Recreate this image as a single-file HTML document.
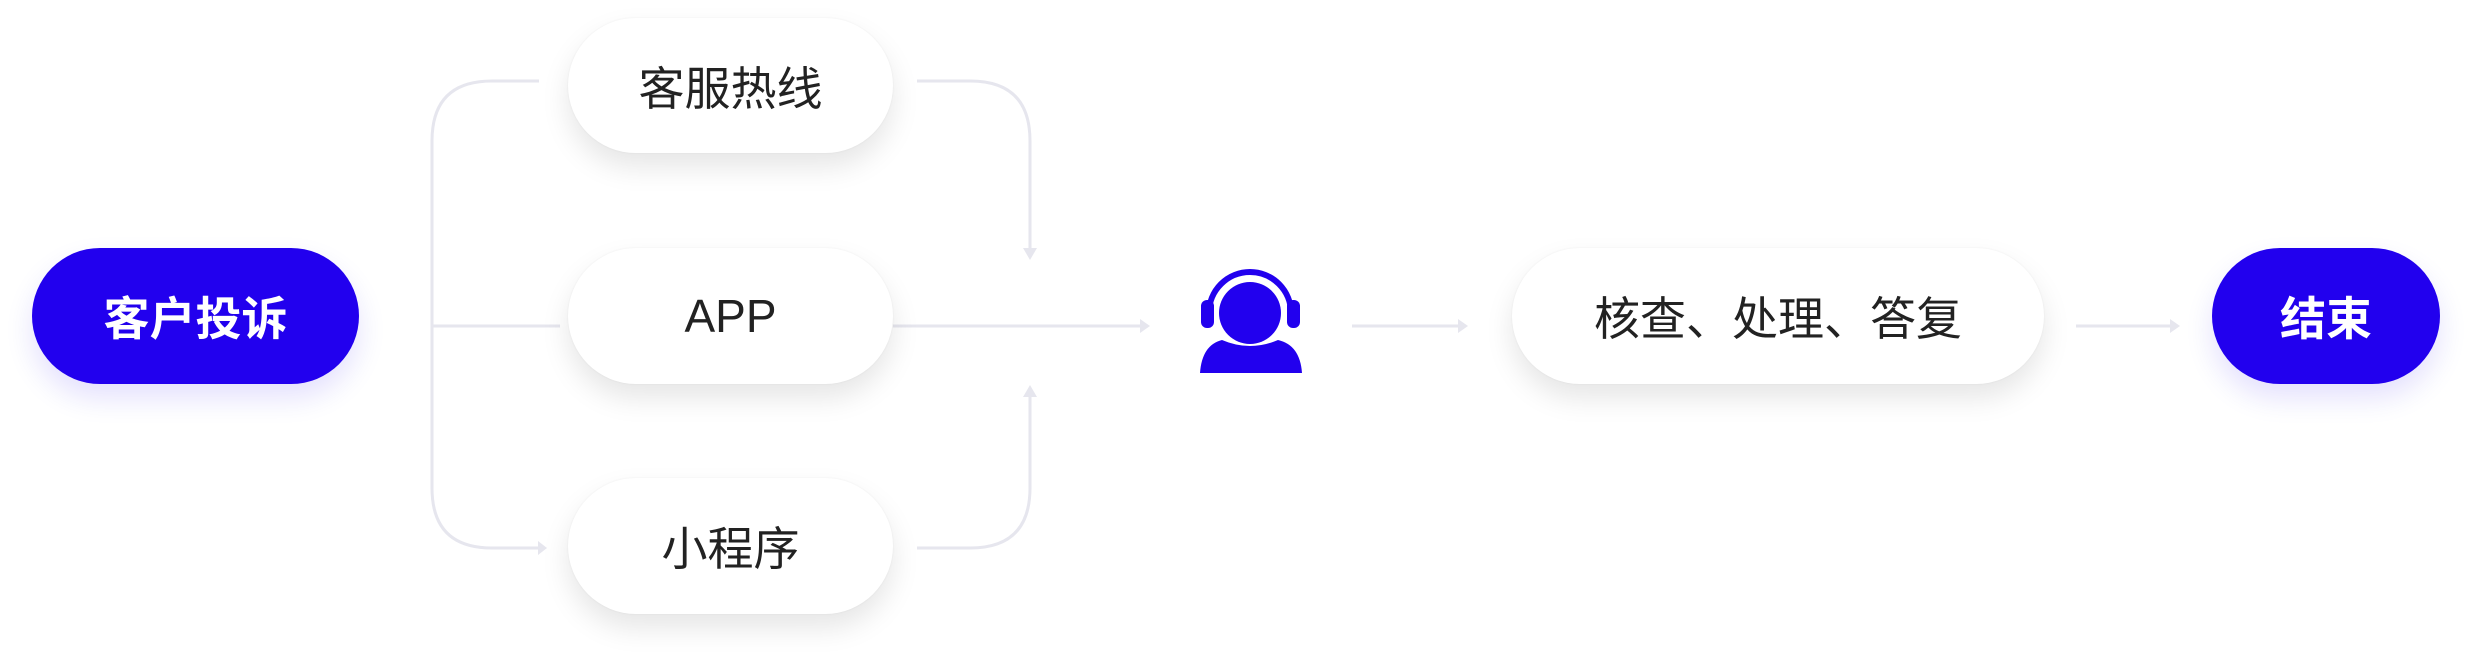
<!DOCTYPE html>
<html><head><meta charset="utf-8"><style>
html,body{margin:0;padding:0;background:#fff;}
body{width:2472px;height:663px;position:relative;overflow:hidden;font-family:"Liberation Sans","Noto Sans CJK SC",sans-serif;}
.p{position:absolute;display:flex;align-items:center;justify-content:center;border-radius:70px;background:#fff;color:#222;font-size:46px;box-shadow:0 14px 28px rgba(0,0,0,0.10),0 0 2px rgba(0,0,0,0.06);}
.b{background:#2200ee;color:#fff;font-weight:bold;box-shadow:0 14px 28px rgba(34,0,238,0.12);}
svg{position:absolute;left:0;top:0;}
</style></head><body>
<svg width="2472" height="663" viewBox="0 0 2472 663">
<g fill="none" stroke="#e6e6ee" stroke-width="3">
<path d="M539 81 H492 Q432 81 432 141 V488 Q432 548 492 548 H539"/>
<path d="M432 326 H560"/>
<path d="M917 81 H970 Q1030 81 1030 141 V252"/>
<path d="M917 548 H970 Q1030 548 1030 488 V393"/>
<path d="M893 326 H1142"/>
<path d="M1352 326 H1460"/>
<path d="M2076 326 H2172"/>
</g>
<g fill="#e6e6ee">
<path d="M1023 248 L1037 248 L1030 260Z"/>
<path d="M1023 397 L1037 397 L1030 385Z"/>
<path d="M1140 319 L1140 333 L1150 326Z"/>
<path d="M1458 319 L1458 333 L1468 326Z"/>
<path d="M2170 319 L2170 333 L2180 326Z"/>
<path d="M538 541 L538 555 L547 548Z"/>
</g>
<g fill="#2200ee">
<path d="M1209 313 A41 41 0 0 1 1291 313" fill="none" stroke="#2200ee" stroke-width="6"/>
<rect x="1201" y="300" width="13" height="28" rx="6"/>
<rect x="1287" y="300" width="13" height="28" rx="6"/>
<circle cx="1250" cy="313" r="35" fill="#fff"/>
<circle cx="1250" cy="313" r="31"/>
<path d="M1200 373 Q1202 345 1222 340 Q1250 352 1278 340 Q1300 345 1302 373 Z"/>
</g>
</svg>
<div class="p b" style="left:32px;top:248px;width:327px;height:136px;">客户投诉</div>
<div class="p" style="left:568px;top:18px;width:325px;height:135px;">客服热线</div>
<div class="p" style="left:568px;top:248px;width:325px;height:136px;">APP</div>
<div class="p" style="left:568px;top:478px;width:325px;height:136px;">小程序</div>
<div class="p" style="left:1512px;top:248px;width:532px;height:136px;">核查、处理、答复</div>
<div class="p b" style="left:2212px;top:248px;width:228px;height:136px;">结束</div>
</body></html>
